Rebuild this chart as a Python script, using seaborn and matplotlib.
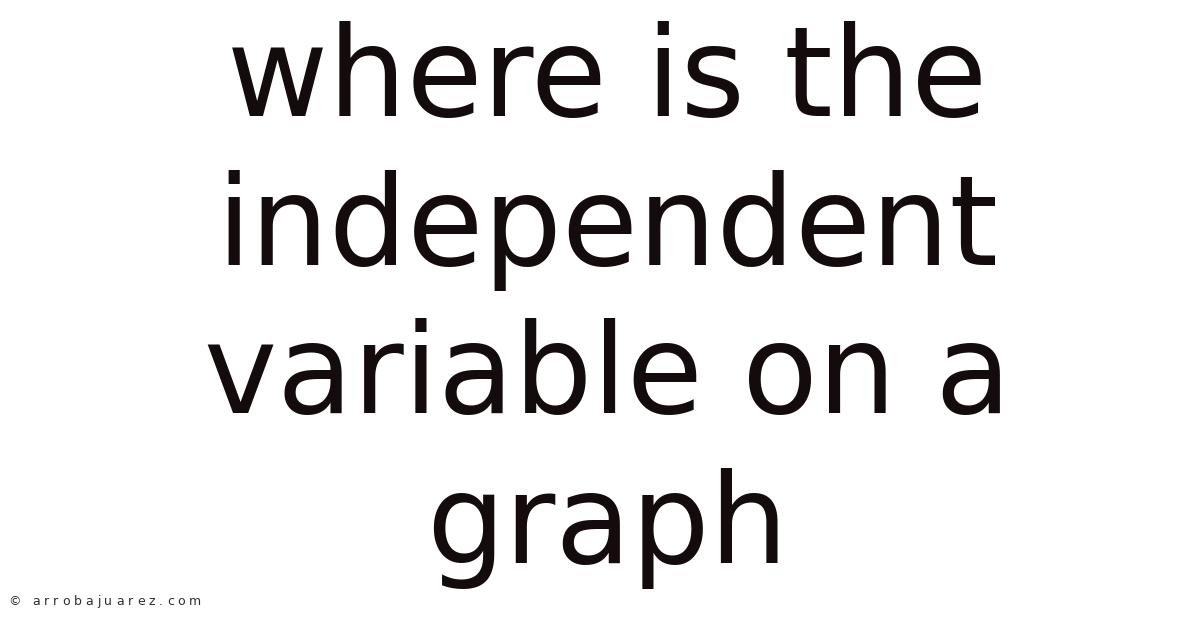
import matplotlib
matplotlib.use("Agg")
import matplotlib.pyplot as plt
import seaborn as sns

# Title lines and watermark, as shown in the picture
TITLE_LINES = ["where is the", "independent", "variable on a", "graph"]
WATERMARK = "© arrobajuarez.com"

TEXT_COLOR = "#130b0c"
MARK_COLOR = "#2e2e2e"


def draw_spaced(fig, text, x0, y, size, spacing, color):
    """Draw text char by char so the watermark gets its wide letter spacing."""
    renderer = fig.canvas.get_renderer()
    x = x0
    for ch in text:
        t = fig.text(x, y, ch, fontsize=size, color=color, ha="left", va="baseline",
                     transform=None)
        w = t.get_window_extent(renderer).width
        if ch == " ":
            w = size * 0.45
        x += w + spacing


def main():
    sns.set_theme(style="white")
    plt.rcParams["font.family"] = ["DejaVu Sans"]

    fig = plt.figure(figsize=(12, 6.28), dpi=100)
    fig.patch.set_facecolor("white")
    ax = fig.add_axes([0, 0, 1, 1])
    ax.set_axis_off()

    # baselines in pixels from the top
    baselines = [116, 265, 413, 563]
    for line, b in zip(TITLE_LINES, baselines):
        fig.text(0.506, 1 - b / 628, line, fontsize=89, color=TEXT_COLOR,
                 ha="center", va="baseline")

    draw_spaced(fig, WATERMARK, 8, 628 - 605, 9, 3.9, MARK_COLOR)

    fig.savefig("out.png", dpi=100, facecolor="white")
    plt.close(fig)


if __name__ == "__main__":
    main()
